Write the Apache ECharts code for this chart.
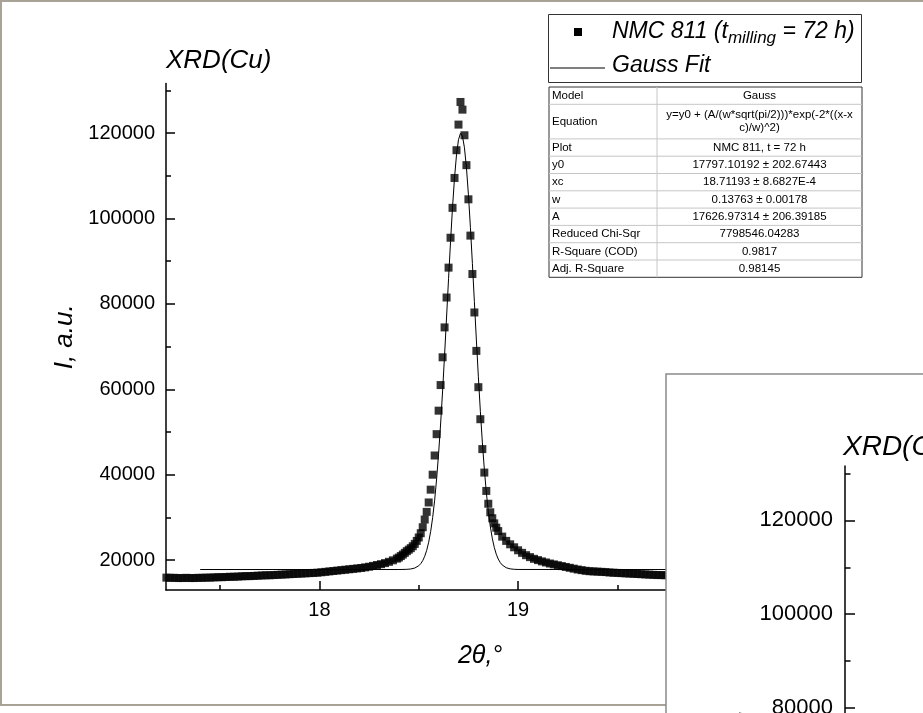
<!DOCTYPE html>
<html>
<head>
<meta charset="utf-8">
<title>XRD NMC 811</title>
<script src="https://cdn.jsdelivr.net/npm/echarts@6/dist/echarts.min.js"></script>
<style>
    html, body { margin: 0; padding: 0; background: #fff; }
    #chart { width: 923px; height: 713px; }
</style>
</head>
<body>
<div id="chart"></div>
<script>
// measured points, 2theta (deg)
const angle = [
    17.23, 17.25, 17.27, 17.29, 17.31, 17.33, 17.35, 17.37, 17.39, 17.41,
    17.43, 17.45, 17.47, 17.49, 17.51, 17.53, 17.55, 17.57, 17.59, 17.61,
    17.63, 17.65, 17.67, 17.69, 17.71, 17.73, 17.75, 17.77, 17.79, 17.81,
    17.83, 17.85, 17.87, 17.89, 17.91, 17.93, 17.95, 17.97, 17.99, 18.01,
    18.03, 18.05, 18.07, 18.09, 18.11, 18.13, 18.15, 18.17, 18.19, 18.21,
    18.23, 18.25, 18.27, 18.29, 18.31, 18.33, 18.35, 18.37, 18.39,
    18.40, 18.41, 18.42, 18.43, 18.44, 18.45, 18.46, 18.47, 18.48, 18.49,
    18.50, 18.51, 18.52, 18.53, 18.54, 18.55, 18.56, 18.57, 18.58, 18.59,
    18.60, 18.61, 18.62, 18.63, 18.64, 18.65, 18.66, 18.67, 18.68, 18.69,
    18.70, 18.71, 18.72, 18.73, 18.74, 18.75, 18.76, 18.77, 18.78, 18.79,
    18.80, 18.81, 18.82, 18.83, 18.84, 18.85, 18.86, 18.87, 18.88, 18.89, 18.90,
    18.92, 18.94, 18.96, 18.98, 19.00, 19.02, 19.04, 19.06, 19.08, 19.10,
    19.12, 19.14, 19.16, 19.18, 19.20, 19.22, 19.24, 19.26, 19.28, 19.30,
    19.32, 19.34, 19.36, 19.38, 19.40, 19.42, 19.44, 19.46, 19.48, 19.50,
    19.52, 19.54, 19.56, 19.58, 19.60, 19.62, 19.64, 19.66, 19.68, 19.70,
    19.72, 19.74, 19.76, 19.78, 19.80
];
const intensity = [
    15900, 15850, 15850, 15800, 15800, 15850, 15800, 15800, 15850, 15850,
    15900, 15900, 15950, 16000, 16000, 16050, 16100, 16100, 16150, 16200,
    16250, 16250, 16300, 16350, 16400, 16450, 16450, 16500, 16550, 16600,
    16650, 16700, 16750, 16800, 16850, 16900, 16950, 17000, 17050, 17150,
    17250, 17350, 17450, 17550, 17650, 17750, 17850, 17950, 18050, 18150,
    18300, 18450, 18650, 18850, 19050, 19300, 19600, 19950, 20350,
    20600, 20950, 21300, 21700, 22100, 22450, 22800, 23250, 23800, 24500,
    25300, 26300, 27700, 29500, 31300, 33500, 36500, 40000, 44500, 49500,
    55000, 61000, 67500, 74500, 81500, 88500, 95500, 102500, 109500, 116000,
    122000, 127300, 125500, 119500, 112500, 104500, 96000, 87000, 78000, 69000,
    60500, 53000, 46000, 40500, 36200, 33200, 31200, 29800, 28600, 27600, 26800,
    25500, 24500, 23700, 23000, 22300, 21700, 21150, 20700, 20300, 20000,
    19700, 19450, 19200, 19000, 18800, 18600, 18400, 18200, 18000, 17800,
    17650, 17500, 17400, 17350, 17300, 17250, 17200, 17100, 17050, 17000,
    16950, 16900, 16850, 16800, 16750, 16700, 16650, 16600, 16550, 16500,
    16500, 16450, 16400, 16400, 16350
];

// Gauss fit curve
const fitAngle = [
    17.40, 18.00, 18.40,
    18.44, 18.45, 18.46, 18.47, 18.48, 18.49,
    18.50, 18.51, 18.52, 18.53, 18.54, 18.55, 18.56, 18.57, 18.58, 18.59,
    18.60, 18.61, 18.62, 18.63, 18.64, 18.65, 18.66, 18.67, 18.68, 18.69,
    18.70, 18.71, 18.72, 18.73, 18.74, 18.75, 18.76, 18.77, 18.78, 18.79,
    18.80, 18.81, 18.82, 18.83, 18.84, 18.85, 18.86, 18.87, 18.88, 18.89,
    18.90, 18.91, 18.92, 18.93, 18.94, 18.95, 18.96,
    18.98, 19.00, 19.40, 20.39
];
const fitIntensity = [
    17797, 17797, 17797,
    17838, 17870, 17922, 18010, 18145, 18359,
    18684, 19173, 19882, 20894, 22292, 24193, 26720, 29970, 34030, 39040,
    44990, 51880, 59610, 68050, 76930, 85910, 94620, 102640, 109530, 114920,
    118470, 119970, 119320, 116580, 111900, 105560, 97930, 89450, 80530, 71560,
    62930, 54870, 47640, 41300, 35920, 31480, 27920, 25120, 22990, 21400,
    20250, 19430, 18860, 18470, 18220, 18060, 17950,
    17850, 17810, 17797, 17797
];

const xTickLabels = [18, 19];
const xMinorTicks = [17.5, 18.5, 19.5];
const yTickLabels = [20000, 40000, 60000, 80000, 100000, 120000];
const yMinorTicks = [30000, 50000, 70000, 90000, 110000, 130000];

const tableRows = [
    ['Model', ['Gauss']],
    ['Equation', ['y=y0 + (A/(w*sqrt(pi/2)))*exp(-2*((x-x', 'c)/w)^2)']],
    ['Plot', ['NMC 811, t = 72 h']],
    ['y0', ['17797.10192 \u00b1 202.67443']],
    ['xc', ['18.71193 \u00b1 8.6827E-4']],
    ['w', ['0.13763 \u00b1 0.00178']],
    ['A', ['17626.97314 \u00b1 206.39185']],
    ['Reduced Chi-Sqr', ['7798546.04283']],
    ['R-Square (COD)', ['0.9817']],
    ['Adj. R-Square', ['0.98145']]
];

const FONT = '"Liberation Sans", Arial, sans-serif';

// 主图和右下角被遮住的第二个窗口用同一套坐标范围
const X_MIN = 17.228, X_MAX = 20.39;
const Y_MIN = 13000, Y_MAX = 131600;

function pairs(xs, ys) {
    let out = [];
    for (let i = 0; i < xs.length; i++) {
        out.push([xs[i], ys[i]]);
    }
    return out;
}

function valueAxis(dir, grid, opts) {
    return {
        type: 'value',
        gridIndex: grid,
        position: dir === 'x' ? 'bottom' : 'left',
        min: dir === 'x' ? X_MIN : Y_MIN,
        max: dir === 'x' ? X_MAX : Y_MAX,
        z: opts.z || 0,
        splitLine: { show: false },
        axisLine: { show: opts.line, onZero: false, lineStyle: { color: '#000', width: 1.5 } },
        axisTick: {
            show: true, inside: true, length: opts.tickLen,
            customValues: opts.ticks,
            lineStyle: { color: '#000', width: 1.5 }
        },
        axisLabel: opts.labels ? {
            show: true, customValues: opts.ticks,
            formatter: function (v) { return String(v); },
            color: '#000', fontFamily: FONT, fontSize: opts.fontSize, margin: opts.margin
        } : { show: false },
        name: opts.name || '',
        nameLocation: 'middle',
        nameGap: opts.nameGap,
        nameRotate: dir === 'y' ? 90 : 0,
        nameTextStyle: {
            color: '#000', fontFamily: FONT, fontStyle: 'italic', fontSize: opts.nameSize
        }
    };
}

// 图例框 + 拟合参数表
let graphics = [];

// main window frame
graphics.push({
    type: 'rect', z: 1, silent: true,
    shape: { x: 1, y: 1, width: 1200, height: 704 },
    style: { fill: 'none', stroke: '#a9a296', lineWidth: 2 }
});

// legend
graphics.push({
    type: 'rect', z: 10,
    shape: { x: 548.5, y: 14.5, width: 313, height: 68 },
    style: { fill: '#fff', stroke: '#333', lineWidth: 1 }
});
graphics.push({
    type: 'rect', z: 11,
    shape: { x: 574, y: 28, width: 8, height: 8 },
    style: { fill: '#000' }
});
graphics.push({
    type: 'text', z: 11, x: 612, y: 32,
    style: {
        text: '{a|NMC 811 (t}{s|milling}{a| = 72 h)}',
        textVerticalAlign: 'middle',
        rich: {
            a: { fontFamily: FONT, fontStyle: 'italic', fontSize: 23, fill: '#000' },
            s: { fontFamily: FONT, fontStyle: 'italic', fontSize: 17, fill: '#000', padding: [12, 0, 0, 0] }
        }
    }
});
graphics.push({
    type: 'line', z: 11,
    shape: { x1: 550, y1: 68, x2: 605, y2: 68 },
    style: { stroke: '#000', lineWidth: 1 }
});
graphics.push({
    type: 'text', z: 11, x: 612, y: 66,
    style: {
        text: 'Gauss Fit', textVerticalAlign: 'middle',
        font: 'italic 23px ' + FONT, fill: '#000'
    }
});

// table
const tX = 549, tY = 87, tW = 313, colX = 657, rowH = 17.3;
let rowTop = tY;
for (let i = 0; i < tableRows.length; i++) {
    const lines = tableRows[i][1];
    const h = rowH * (lines.length > 1 ? 2 : 1);
    if (i > 0) {
        graphics.push({
            type: 'line', z: 11,
            shape: { x1: tX, y1: rowTop, x2: tX + tW, y2: rowTop },
            style: { stroke: '#c6c6c6', lineWidth: 1 }
        });
    }
    graphics.push({
        type: 'text', z: 12, x: tX + 3, y: rowTop + h / 2,
        style: {
            text: tableRows[i][0], textVerticalAlign: 'middle',
            font: '11.5px ' + FONT, fill: '#000'
        }
    });
    graphics.push({
        type: 'text', z: 12, x: (colX + tX + tW) / 2, y: rowTop + h / 2,
        style: {
            text: lines.join('\n'), textAlign: 'center', textVerticalAlign: 'middle',
            lineHeight: 13, font: '11.5px ' + FONT, fill: '#000'
        }
    });
    rowTop += h;
}
graphics.push({
    type: 'line', z: 11,
    shape: { x1: colX, y1: tY, x2: colX, y2: rowTop },
    style: { stroke: '#c6c6c6', lineWidth: 1 }
});
graphics.push({
    type: 'rect', z: 10,
    shape: { x: tX, y: tY, width: tW, height: rowTop - tY },
    style: { fill: '#fff', stroke: '#333', lineWidth: 1 }
});

// second window lying over the bottom right corner
graphics.push({
    type: 'rect', z: 50,
    shape: { x: 666, y: 374, width: 400, height: 400 },
    style: { fill: '#fff', stroke: '#8a8a8a', lineWidth: 1.5 }
});

const chart = echarts.init(document.getElementById('chart'));

const option = {
    animation: false,
    backgroundColor: '#fff',
    title: [
        {
            text: 'XRD(Cu)', left: 166, top: 48, padding: 0,
            textStyle: { fontFamily: FONT, fontStyle: 'italic', fontWeight: 'normal', fontSize: 26, color: '#000' }
        },
        {
            text: 'XRD(Cu)', left: 843, top: 433, padding: 0, z: 60,
            textStyle: { fontFamily: FONT, fontStyle: 'italic', fontWeight: 'normal', fontSize: 28, color: '#000' }
        }
    ],
    grid: [
        { left: 166, top: 83.6, width: 628.3, height: 506.4, outerBoundsMode: 'none', containLabel: false },
        { left: 845, top: 466, width: 690, height: 556, outerBoundsMode: 'none', containLabel: false }
    ],
    xAxis: [
        valueAxis('x', 0, { line: true, ticks: xTickLabels, tickLen: 9, labels: true, fontSize: 20, margin: 10,
            name: '2\u03b8,\u00b0', nameGap: 54, nameSize: 25 }),
        valueAxis('x', 0, { line: false, ticks: xMinorTicks, tickLen: 5, labels: false }),
        valueAxis('x', 1, { line: true, ticks: xTickLabels, tickLen: 10, labels: true, fontSize: 22, margin: 11, z: 60,
            name: '2\u03b8,\u00b0', nameGap: 59, nameSize: 27 }),
        valueAxis('x', 1, { line: false, ticks: xMinorTicks, tickLen: 5.5, labels: false, z: 60 })
    ],
    yAxis: [
        valueAxis('y', 0, { line: true, ticks: yTickLabels, tickLen: 9, labels: true, fontSize: 20, margin: 11,
            name: 'I, a.u.', nameGap: 83, nameSize: 26 }),
        valueAxis('y', 0, { line: false, ticks: yMinorTicks, tickLen: 5, labels: false }),
        valueAxis('y', 1, { line: true, ticks: yTickLabels, tickLen: 10, labels: true, fontSize: 22, margin: 12, z: 60,
            name: 'I, a.u.', nameGap: 91, nameSize: 28 }),
        valueAxis('y', 1, { line: false, ticks: yMinorTicks, tickLen: 5.5, labels: false, z: 60 })
    ],
    graphic: { elements: graphics },
    series: [
        {
            name: 'NMC 811 (t milling = 72 h)',
            type: 'scatter',
            xAxisIndex: 0,
            yAxisIndex: 0,
            symbol: 'rect',
            symbolSize: 8,
            itemStyle: { color: '#000' },
            z: 2,
            data: pairs(angle, intensity)
        },
        {
            name: 'Gauss Fit',
            type: 'line',
            xAxisIndex: 0,
            yAxisIndex: 0,
            symbol: 'none',
            smooth: false,
            lineStyle: { color: '#000', width: 1 },
            z: 3,
            data: pairs(fitAngle, fitIntensity)
        }
    ]
};

option && chart.setOption(option);
</script>
</body>
</html>
